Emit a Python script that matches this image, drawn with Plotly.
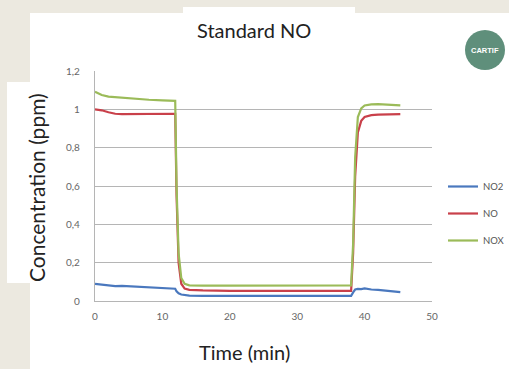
import plotly.graph_objects as go

# ---- data ----
time_min = [0, 1, 2, 3, 4, 6, 8, 10, 11.5, 11.9, 12.1, 12.4, 12.8, 13.3, 14, 16, 20, 25, 30, 35, 38, 38.3, 38.6, 39, 39.5, 40, 41, 42, 43, 44, 45.3]
no2 = [0.089, 0.085, 0.080, 0.078, 0.079, 0.075, 0.072, 0.068, 0.066, 0.064, 0.050, 0.040, 0.034, 0.030, 0.028, 0.027, 0.027, 0.026, 0.026, 0.026, 0.027, 0.045, 0.060, 0.063, 0.062, 0.066, 0.060, 0.058, 0.055, 0.050, 0.046]
no = [1.000, 0.995, 0.985, 0.977, 0.975, 0.976, 0.977, 0.978, 0.978, 0.977, 0.550, 0.200, 0.090, 0.065, 0.058, 0.055, 0.053, 0.052, 0.052, 0.052, 0.053, 0.250, 0.650, 0.880, 0.940, 0.960, 0.970, 0.972, 0.974, 0.975, 0.975]
nox = [1.092, 1.075, 1.066, 1.063, 1.060, 1.055, 1.050, 1.047, 1.045, 1.044, 0.600, 0.250, 0.120, 0.090, 0.082, 0.080, 0.080, 0.080, 0.080, 0.081, 0.082, 0.300, 0.750, 0.960, 1.005, 1.020, 1.026, 1.027, 1.025, 1.023, 1.021]

series_names = ["NO2", "NO", "NOX"]
series_values = [no2, no, nox]
series_colors = ["#4A78BE", "#C9404A", "#9BBB59"]

y_tickvals = [0, 0.2, 0.4, 0.6, 0.8, 1.0, 1.2]
y_ticktext = ["0", "0,2", "0,4", "0,6", "0,8", "1", "1,2"]
x_tickvals = [0, 10, 20, 30, 40, 50]

W, H = 509, 369
L, R, T, B = 95, 77, 71, 68
PW, PH = W - L - R, H - T - B

def px(x):
    return (x - L) / PW

def py(y):
    return (H - B - y) / PH

FONT = "Lato, 'Open Sans', sans-serif"

fig = go.Figure()
for i, (name, vals, col) in enumerate(zip(series_names, series_values, series_colors)):
    fig.add_trace(go.Scatter(x=time_min, y=vals, mode="lines", name=name,
                             line=dict(color=col, width=2.2),
                             legendgroup=name))

beige = "#ECE9E0"
shapes = [
    dict(type="rect", xref="paper", yref="paper", x0=px(30), x1=px(W + 5), y0=py(H + 5), y1=py(13),
         fillcolor="white", line=dict(width=0), layer="below"),
    dict(type="rect", xref="paper", yref="paper", x0=px(183), x1=px(355), y0=py(14), y1=py(7),
         fillcolor="white", line=dict(width=0), layer="below"),
    dict(type="rect", xref="paper", yref="paper", x0=px(7), x1=px(31), y0=py(283), y1=py(82),
         fillcolor="white", line=dict(width=0), layer="below"),
    dict(type="circle", xref="paper", yref="paper", x0=px(465), x1=px(505), y0=py(70), y1=py(30),
         fillcolor="#5F8F7B", line=dict(width=0)),
]

annotations = [
    dict(text="Standard NO", xref="paper", yref="paper", x=px(254), y=py(30), showarrow=False,
         font=dict(family=FONT, size=20, color="#222222"), xanchor="center", yanchor="middle"),
    dict(text="Concentration (ppm)", xref="paper", yref="paper", x=px(36), y=py(188), showarrow=False,
         textangle=-90, font=dict(family=FONT, size=21, color="#222222"), xanchor="center", yanchor="middle"),
    dict(text="Time (min)", xref="paper", yref="paper", x=px(244), y=py(352), showarrow=False,
         font=dict(family=FONT, size=20, color="#222222"), xanchor="center", yanchor="middle"),
    dict(text="<b>CARTIF</b>", xref="paper", yref="paper", x=px(485), y=py(50), showarrow=False,
         font=dict(family="Liberation Sans Narrow, Arial Narrow, sans-serif", size=7.5, color="white"),
         xanchor="center", yanchor="middle"),
]

fig.update_layout(
    width=W, height=H,
    margin=dict(l=L, r=R, t=T, b=B, autoexpand=False),
    paper_bgcolor=beige, plot_bgcolor="white",
    shapes=shapes, annotations=annotations,
    showlegend=True,
    legend=dict(x=px(443), y=py(172), xanchor="left", yanchor="top", bgcolor="rgba(0,0,0,0)",
                font=dict(family=FONT, size=9.5, color="#555555"), tracegroupgap=8,
                traceorder="grouped", itemwidth=30),
    xaxis=dict(range=[0, 50], tickvals=x_tickvals, showgrid=False, zeroline=False,
               showline=True, linecolor="#B5B5B5", linewidth=1.2, ticks="",
               tickfont=dict(family=FONT, size=10, color="#666666"), ticklabelstandoff=6),
    yaxis=dict(range=[0, 1.2], tickvals=y_tickvals, ticktext=y_ticktext, showgrid=True,
               gridcolor="#B5B5B5", gridwidth=1.2, zeroline=False,
               showline=True, linecolor="#B5B5B5", linewidth=1.2, ticks="",
               tickfont=dict(family=FONT, size=10, color="#666666"), ticklabelstandoff=12),
)

fig.write_html("out.html", config={"displayModeBar": False},
               post_script="document.body.style.margin='0';document.body.style.overflow='hidden';")
